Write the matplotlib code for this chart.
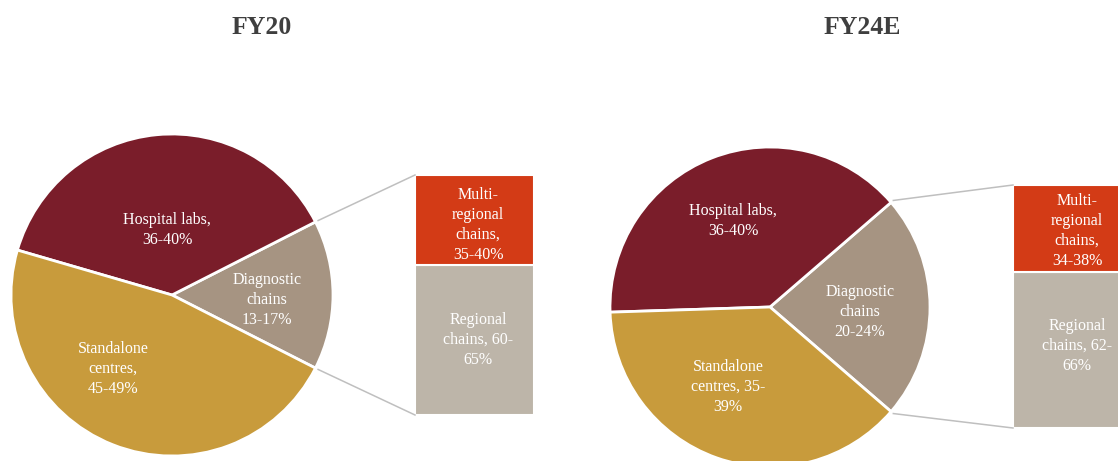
import numpy as np
import matplotlib.pyplot as plt

# Market split (ranges in %), wedge order: diagnostic, hospital, standalone
segments = ['Diagnostic chains', 'Hospital labs', 'Standalone centres']
fy20_low = [13, 36, 45]
fy20_high = [17, 40, 49]
fy24_low = [20, 36, 35]
fy24_high = [24, 40, 39]

# Split of diagnostic chains, bar order: regional (bottom), multi-regional (top)
chain_types = ['Regional chains', 'Multi-regional chains']
fy20_chain_low = [60, 35]
fy20_chain_high = [65, 40]
fy24_chain_low = [62, 34]
fy24_chain_high = [66, 38]

fy20_pie_labels = ['Diagnostic\nchains\n13-17%', 'Hospital labs,\n36-40%',
                   'Standalone\ncentres,\n45-49%']
fy24_pie_labels = ['Diagnostic\nchains\n20-24%', 'Hospital labs,\n36-40%',
                   'Standalone\ncentres, 35-\n39%']
fy20_bar_labels = ['Regional\nchains, 60-\n65%', 'Multi-\nregional\nchains,\n35-40%']
fy24_bar_labels = ['Regional\nchains, 62-\n66%', 'Multi-\nregional\nchains,\n34-38%']

pie_colors = ['#A69482', '#7A1D2A', '#C89B3C']
bar_colors = ['#BDB5A9', '#D33B16']
SERIF = 'Liberation Serif'
W, H = 1118, 461


def mid(low, high):
    return (np.array(low) + np.array(high)) / 2


def draw_panel(ax, title, cx, cy, r, low, high, pie_labels, label_pos,
               bar_x, bar_w, bar_top, bar_bot, c_low, c_high, bar_labels, bar_label_pos):
    vals = mid(low, high)
    share = vals[0] / vals.sum()
    wedges, _ = ax.pie(vals, colors=pie_colors, center=(cx, H - cy), radius=r,
                       startangle=-share * 180, counterclock=True,
                       wedgeprops=dict(edgecolor='white', linewidth=2))
    for txt, (x, y) in zip(pie_labels, label_pos):
        ax.text(x, H - y, txt, ha='center', va='center', color='white',
                fontsize=11.5, family=SERIF, linespacing=1.3)

    # stacked bar breaking down the diagnostic chains wedge
    chain = mid(c_low, c_high)
    total_h = bar_bot - bar_top
    heights = chain / chain.sum() * total_h
    bottom = H - bar_bot
    for h, col in zip(heights, bar_colors):
        ax.bar(bar_x + bar_w / 2, h, width=bar_w, bottom=bottom, color=col,
               edgecolor='white', linewidth=1.5)
        bottom += h
    for txt, (x, y) in zip(bar_labels, bar_label_pos):
        ax.text(x, H - y, txt, ha='center', va='center', color='white',
                fontsize=11.5, family=SERIF, linespacing=1.35)

    # connector lines from the diagnostic wedge to the bar
    w = wedges[0]
    for ang, by in [(w.theta2, bar_top), (w.theta1, bar_bot)]:
        px = cx + (r + 3) * np.cos(np.radians(ang))
        py = (H - cy) + (r + 3) * np.sin(np.radians(ang))
        ax.plot([px, bar_x], [py, H - by], color='#BFBFBF', lw=1.1)

    fig.text(title[1] / W, 1 - 27 / H, title[0], ha='center', va='center',
             fontsize=18.5, fontweight='bold', family=SERIF, color='#3F3F3F')


fig = plt.figure(figsize=(W / 100, H / 100), dpi=100)
ax = fig.add_axes([0, 0, 1, 1])

draw_panel(ax, ('FY20', 262), 172, 295, 161, fy20_low, fy20_high, fy20_pie_labels,
           [(267, 300), (167, 230), (113, 369)],
           415, 119, 175, 415, fy20_chain_low, fy20_chain_high, fy20_bar_labels,
           [(478, 340), (478, 225)])
draw_panel(ax, ('FY24E', 862), 770, 307, 160, fy24_low, fy24_high, fy24_pie_labels,
           [(860, 312), (733, 221), (728, 387)],
           1013, 128, 185, 428, fy24_chain_low, fy24_chain_high, fy24_bar_labels,
           [(1077, 346), (1077, 231)])

ax.set_xlim(0, W)
ax.set_ylim(0, H)
ax.set_aspect('equal')
ax.axis('off')

fig.savefig('out.png', dpi=100, facecolor='white')
